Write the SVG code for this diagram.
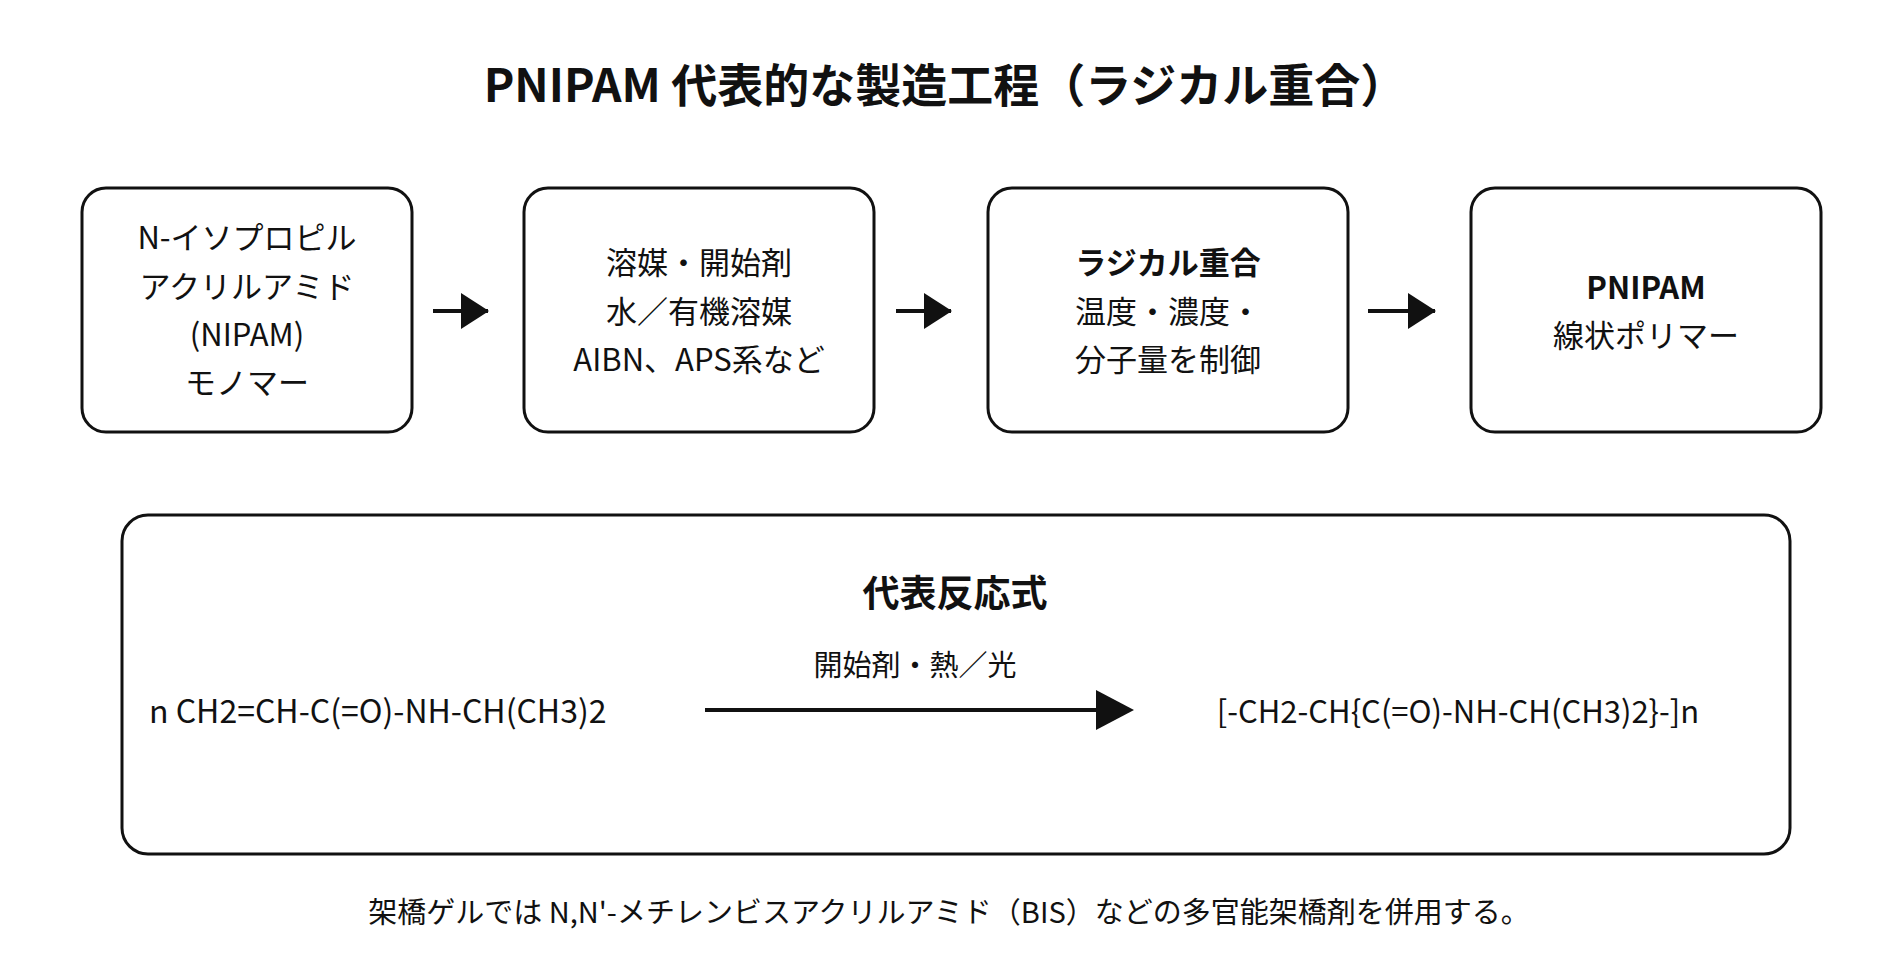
<svg xmlns="http://www.w3.org/2000/svg" width="1900" height="980" viewBox="0 0 1900 980">
<style>
text{font-family:"Noto Sans CJK JP","Noto Sans",sans-serif;fill:#111;text-anchor:middle}
.t{font-size:31px}
.b{font-weight:bold}
.box{fill:#fff;stroke:#111;stroke-width:3}
.ln{stroke:#111;stroke-width:4;fill:none}
</style>
<defs>
<marker id="ah" markerWidth="28" markerHeight="36" refX="27" refY="18" orient="auto" markerUnits="userSpaceOnUse" viewBox="0 0 28 36"><path d="M0,0L28,18L0,36z" fill="#111"/></marker>
</defs>
<rect width="1900" height="980" fill="#fff"/>
<text x="945" y="102" font-size="46" class="b">PNIPAM 代表的な製造工程（ラジカル重合）</text>
<g id="n1"><rect class="box" x="82" y="188" width="330" height="244" rx="24"/>
<text class="t" x="247" y="249">N-イソプロピル</text><text class="t" x="247" y="298">アクリルアミド</text><text class="t" x="247" y="346">(NIPAM)</text><text class="t" x="247" y="394">モノマー</text></g>
<g id="n2"><rect class="box" x="524" y="188" width="350" height="244" rx="24"/>
<text class="t" x="699" y="274">溶媒・開始剤</text><text class="t" x="699" y="323">水／有機溶媒</text><text class="t" x="699" y="371">AIBN、APS系など</text></g>
<g id="n3"><rect class="box" x="988" y="188" width="360" height="244" rx="24"/>
<text class="t b" x="1168" y="274">ラジカル重合</text><text class="t" x="1168" y="323">温度・濃度・</text><text class="t" x="1168" y="371">分子量を制御</text></g>
<g id="n4"><rect class="box" x="1471" y="188" width="350" height="244" rx="24"/>
<text class="t b" x="1646" y="299">PNIPAM</text><text class="t" x="1646" y="347">線状ポリマー</text></g>
<g id="n5"><rect class="box" x="122" y="515" width="1668" height="339" rx="26"/>
<text x="955" y="607" font-size="37" class="b">代表反応式</text>
<text x="915" y="676" style="font-size:29px">開始剤・熱／光</text>
<text x="149" y="723" style="text-anchor:start;font-size:32px">n CH2=CH-C(=O)-NH-CH(CH3)2</text>
<text x="1458" y="723" style="font-size:31px">[-CH2-CH{C(=O)-NH-CH(CH3)2}-]n</text></g>
<g id="connectors">
<line class="ln" x1="433" y1="311" x2="488" y2="311" marker-end="url(#ah)"/>
<line class="ln" x1="896" y1="311" x2="951" y2="311" marker-end="url(#ah)"/>
<line class="ln" x1="1368" y1="311" x2="1435" y2="311" marker-end="url(#ah)"/>
<path d="M705,710H1100" class="ln"/><path d="M1096,690L1134,710L1096,730z" fill="#111"/>
</g>
<text x="949" y="923" style="font-size:29px">架橋ゲルでは N,N'-メチレンビスアクリルアミド（BIS）などの多官能架橋剤を併用する。</text>
</svg>
